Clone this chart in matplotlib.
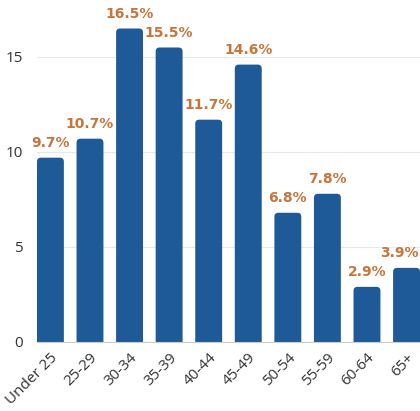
import matplotlib
matplotlib.use("Agg")
import matplotlib.pyplot as plt
from matplotlib.patches import FancyBboxPatch

categories = ["Under 25", "25-29", "30-34", "35-39", "40-44", "45-49", "50-54", "55-59", "60-64", "65+"]
values = [9.7, 10.7, 16.5, 15.5, 11.7, 14.6, 6.8, 7.8, 2.9, 3.9]
yticks = [0, 5, 10, 15]

BAR = "#1d5a97"
LAB = "#c8743a"

plt.rcParams['font.family'] = ['Open Sans', 'DejaVu Sans']

fig = plt.figure(figsize=(4.2, 4.11), dpi=100)
ax = fig.add_axes([0.088, 0.168, 0.912, 0.832])

width = 0.68
bars = ax.bar(range(len(values)), values, width=width, color=BAR)
ax.set_xlim(-width / 2, len(values) - 1 + width / 2)
ax.set_ylim(0, 18)

# rounded tops
for b in bars:
    x, y, w, h = b.get_x(), b.get_y(), b.get_width(), b.get_height()
    b.set_visible(False)
    p = FancyBboxPatch((x, y - 0.5), w, h + 0.5,
                       boxstyle="round,pad=0,rounding_size=0.1",
                       mutation_aspect=2.1, facecolor=BAR, edgecolor='none',
                       clip_on=True)
    ax.add_patch(p)

n = len(values)
for i, v in enumerate(values):
    dx = -5 if i == n - 1 else 0
    ax.annotate(f"{v}%", (i, v), xytext=(dx, 5.5), textcoords="offset points",
                ha="center", va="bottom", color=LAB, fontsize=10,
                fontweight="bold", family=["DejaVu Sans"],
                annotation_clip=False)

ax.set_yticks(yticks)
ax.set_xticks(range(len(values)))
ax.set_xticklabels(categories, rotation=45, ha="right", rotation_mode="anchor")
ax.tick_params(axis='both', length=0, labelsize=11, colors="#333333")
ax.tick_params(axis='x', pad=6)
ax.tick_params(axis='y', pad=10)
ax.grid(axis='y', color="#e8e8e8", linewidth=0.8)
ax.set_axisbelow(True)
for s in ["top", "right", "left"]:
    ax.spines[s].set_visible(False)
ax.spines["bottom"].set_color("#cccccc")
ax.spines["bottom"].set_linewidth(0.8)

fig.savefig("out.png", dpi=100)
